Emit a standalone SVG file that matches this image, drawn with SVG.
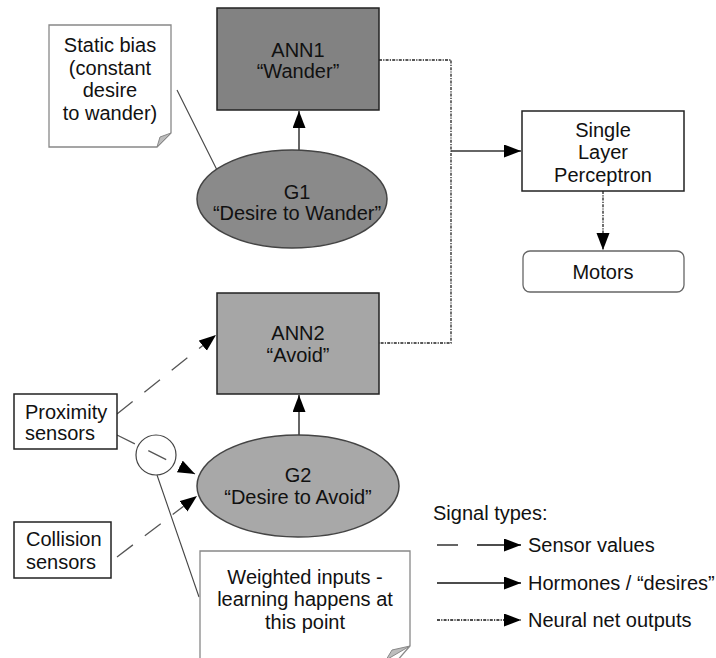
<svg xmlns="http://www.w3.org/2000/svg" width="716" height="658" viewBox="0 0 716 658">
<defs>
<marker id="ah" markerUnits="userSpaceOnUse" markerWidth="18" markerHeight="14" refX="17" refY="6.5" orient="auto">
<path d="M0,0 L17,6.5 L0,13 Z" fill="#000"/>
</marker>
<style>
text{font-family:"Liberation Sans",Arial,sans-serif;font-size:20px;fill:#111;text-anchor:middle}
.l{text-anchor:start}
.box{stroke:#222;stroke-width:1.5}
.note{fill:#fff;stroke:#888;stroke-width:1.3}
.fold{fill:#bdbdbd;stroke:#888;stroke-width:1}
.solid{stroke:#333;stroke-width:1.5;fill:none}
.sens{stroke:#555;stroke-width:1.3;fill:none;stroke-dasharray:20,15}
.neur{stroke:#222;stroke-width:1.3;fill:none;stroke-dasharray:3,1.2,1.2,1.2}
.thin{stroke:#444;stroke-width:1.1;fill:none}
</style>
</defs>
<rect width="716" height="658" fill="#fff"/>

<g id="connectors">
<line class="thin" x1="177" y1="90" x2="217" y2="170"/>
<line class="solid" x1="299" y1="150" x2="299" y2="111" marker-end="url(#ah)"/>
<line class="solid" x1="299" y1="435" x2="299" y2="395" marker-end="url(#ah)"/>
<polyline class="neur" points="379,60 451,60 451,343 379,343"/>
<line class="solid" x1="451" y1="151" x2="521" y2="151" marker-end="url(#ah)"/>
<line class="neur" x1="603" y1="191" x2="603" y2="250" marker-end="url(#ah)"/>
<line class="sens" x1="117" y1="414" x2="216" y2="335" marker-end="url(#ah)"/>
<line class="sens" x1="117" y1="435" x2="195" y2="474" marker-end="url(#ah)"/>
<line class="sens" x1="117" y1="557" x2="197" y2="496" marker-end="url(#ah)"/>
<line class="thin" x1="157" y1="475" x2="199" y2="597"/>
</g>

<g id="note-static">
<path class="note" d="M49,25 H171 V133 L157,147 H49 Z"/>
<path class="fold" d="M171,133 L157,147 L160,137 Z"/>
<text x="110" y="52">Static bias</text>
<text x="110" y="75">(constant</text>
<text x="110" y="97">desire</text>
<text x="110" y="120">to wander)</text>
</g>

<g id="ann1">
<rect class="box" x="217" y="8" width="162" height="102" fill="#828282"/>
<text x="298" y="57">ANN1</text>
<text x="298" y="78">“Wander”</text>
</g>

<g id="g1">
<ellipse class="box" cx="292" cy="199" rx="95" ry="49" fill="#8a8a8a" style="stroke:#444"/>
<text x="297" y="199">G1</text>
<text x="297" y="220">“Desire to Wander”</text>
</g>

<g id="perceptron">
<rect class="box" x="522" y="111" width="162" height="80" fill="#fff"/>
<text x="603" y="137">Single</text>
<text x="603" y="159">Layer</text>
<text x="603" y="182">Perceptron</text>
</g>

<g id="motors">
<rect x="523" y="251" width="161" height="41" rx="7" fill="#fff" stroke="#666" stroke-width="1.3"/>
<text x="603" y="279">Motors</text>
</g>

<g id="ann2">
<rect class="box" x="217" y="293" width="162" height="101" fill="#a6a6a6"/>
<text x="298" y="340">ANN2</text>
<text x="298" y="362">“Avoid”</text>
</g>

<g id="g2">
<ellipse class="box" cx="298" cy="486" rx="101" ry="51" fill="#a8a8a8" style="stroke:#444"/>
<text x="298" y="482">G2</text>
<text x="298" y="504">“Desire to Avoid”</text>
</g>

<g id="proximity">
<rect class="box" x="14" y="394" width="103" height="55" fill="#fff"/>
<text class="l" x="25" y="419">Proximity</text>
<text class="l" x="25" y="440">sensors</text>
</g>

<g id="collision">
<rect class="box" x="14" y="522" width="97" height="56" fill="#fff"/>
<text class="l" x="26" y="546">Collision</text>
<text class="l" x="26" y="569">sensors</text>
</g>

<g id="weight-circle">
<circle cx="156" cy="455" r="20" fill="none" stroke="#444" stroke-width="1.2"/>
</g>

<g id="note-weighted">
<path class="note" d="M200,551 H410 V646 L396,662 H200 Z"/>
<path class="fold" d="M410,646 L386,660 L392,650 Z"/>
<text x="305" y="584">Weighted inputs -</text>
<text x="305" y="606">learning happens at</text>
<text x="305" y="629">this point</text>
</g>

<g id="legend">
<text class="l" x="433" y="520">Signal types:</text>
<line x1="437" y1="545" x2="458" y2="545" stroke="#111" stroke-width="1.3"/>
<line x1="477" y1="545" x2="521" y2="545" stroke="#111" stroke-width="1.3" marker-end="url(#ah)"/>
<text class="l" x="528" y="552">Sensor values</text>
<line x1="437" y1="583" x2="521" y2="583" stroke="#111" stroke-width="1.3" marker-end="url(#ah)"/>
<text class="l" x="528" y="590">Hormones / “desires”</text>
<line class="neur" x1="437" y1="620" x2="521" y2="620" style="stroke:#111" marker-end="url(#ah)"/>
<text class="l" x="528" y="627">Neural net outputs</text>
</g>
</svg>
